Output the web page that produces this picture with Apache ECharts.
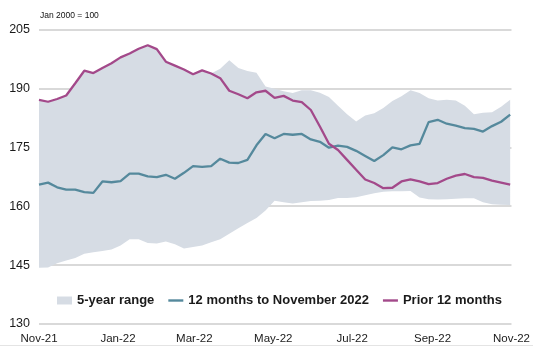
<!DOCTYPE html>
<html>
<head>
<meta charset="utf-8">
<script src="https://cdn.jsdelivr.net/npm/echarts@6/dist/echarts.min.js"></script>
<style>
html,body{margin:0;padding:0;background:#fff;}
#chart{width:533px;height:348px;}
</style>
</head>
<body>
<div id="chart"></div>
<script>
// Weekly observation dates
var dates = [
'2021-11-01','2021-11-08','2021-11-15','2021-11-22','2021-11-29',
'2021-12-06','2021-12-13','2021-12-20','2021-12-27',
'2022-01-03','2022-01-10','2022-01-17','2022-01-24','2022-01-31',
'2022-02-07','2022-02-14','2022-02-21','2022-02-28',
'2022-03-07','2022-03-14','2022-03-21','2022-03-28',
'2022-04-04','2022-04-11','2022-04-18','2022-04-25',
'2022-05-02','2022-05-09','2022-05-16','2022-05-23','2022-05-30',
'2022-06-06','2022-06-13','2022-06-20','2022-06-27',
'2022-07-04','2022-07-11','2022-07-18','2022-07-25',
'2022-08-01','2022-08-08','2022-08-15','2022-08-22','2022-08-29',
'2022-09-05','2022-09-12','2022-09-19','2022-09-26',
'2022-10-03','2022-10-10','2022-10-17','2022-10-24','2022-10-31'
];

// 12 months to November 2022
var current12 = [
165.5,166.0,164.8,164.2,164.2,163.6,163.4,166.3,166.1,
166.4,168.3,168.3,167.6,167.4,168.0,167.0,168.5,170.2,
170.0,170.2,172.1,171.1,171.0,171.8,175.5,178.4,177.3,
178.4,178.2,178.4,177.0,176.4,174.9,175.4,175.1,174.1,
172.8,171.5,173.0,175.0,174.5,175.5,175.9,181.4,182.0,
181.0,180.5,179.9,179.7,179.0,180.4,181.5,183.3
];

// Prior 12 months
var prior12 = [
187.1,186.6,187.3,188.2,191.3,194.5,193.9,195.2,196.4,
197.9,198.9,200.1,201.0,200.0,196.8,195.8,194.8,193.6,
194.6,193.8,192.6,189.4,188.5,187.5,189.0,189.4,187.6,
188.1,186.9,186.5,184.5,180.3,175.9,174.3,171.8,169.3,
166.8,165.9,164.6,164.7,166.3,166.8,166.3,165.6,165.9,
167.0,167.8,168.2,167.4,167.2,166.5,166.0,165.5
];

// 5-year range bounds
var rangeLow = [
144.3,144.4,145.5,146.2,146.8,147.9,148.3,148.6,149.0,
150.0,151.6,151.6,150.6,150.5,151.0,150.3,149.2,149.6,
150.0,150.8,151.6,153.0,154.4,155.7,157.0,158.9,161.4,
161.0,160.7,161.0,161.3,161.4,161.6,162.1,162.1,162.3,
162.8,163.3,163.7,163.8,163.8,163.9,162.2,161.8,161.7,
161.8,161.9,162.0,162.0,161.0,160.5,160.4,160.3
];
var rangeHigh = [
187.1,186.6,187.3,188.2,191.3,194.5,193.9,195.2,196.4,
197.9,198.9,200.1,201.0,200.0,196.8,195.8,194.8,193.6,
194.6,193.8,195.0,197.2,195.2,194.4,194.0,190.5,189.9,
189.3,188.8,189.5,189.5,188.9,187.8,185.6,183.4,181.6,
183.1,183.7,185.0,186.8,188.0,189.5,188.8,187.5,186.9,
187.1,186.9,185.6,183.4,183.8,183.9,185.3,187.1
];

// Axis
var yMin = 130, yMax = 205, yStep = 15;
var xTickDates = ['2021-11-01','2022-01-01','2022-03-01','2022-05-01','2022-07-01','2022-09-01','2022-11-01'];
var xTickLabels = ['Nov-21','Jan-22','Mar-22','May-22','Jul-22','Sep-22','Nov-22'];

var seriesNames = ['5-year range','12 months to November 2022','Prior 12 months'];

var COL_BAND = '#d6dce4', COL_TEAL = '#55899c', COL_PURPLE = '#a3498a';
var FONT = 'Liberation Sans, Arial, sans-serif';

var DAY = 86400000;
function ts(s){ var p = s.split('-'); return Date.UTC(+p[0], +p[1]-1, +p[2]); }
var t0 = ts(xTickDates[0]);
function dayOf(s){ return Math.round((ts(s) - t0) / DAY); }
var tickDays = xTickDates.map(dayOf);
var labelByDay = {};
tickDays.forEach(function(d,i){ labelByDay[d] = xTickLabels[i]; });
function pairs(arr){ return arr.map(function(v,i){ return [dayOf(dates[i]), v]; }); }
var bandData = dates.map(function(d,i){ return [dayOf(d), rangeLow[i], rangeHigh[i]]; });

function renderBand(params, api){
  if (params.dataIndex !== 0) return null;
  var top = [], bot = [];
  for (var i = 0; i < bandData.length; i++) {
    top.push(api.coord([bandData[i][0], bandData[i][2]]));
    bot.push(api.coord([bandData[i][0], bandData[i][1]]));
  }
  var pts = top.concat(bot.reverse());
  return {type:'polygon', shape:{points: pts}, style:{fill: COL_BAND}, silent:true};
}

var lineIcon = 'path://M0,0h15v2.4h-15z';

var chart = echarts.init(document.getElementById('chart'), null, {renderer:'canvas'});
chart.setOption({
  animation: false,
  backgroundColor: '#fff',
  grid: {left: 39, right: 20, top: 29.5, bottom: 24, containLabel: false},
  graphic: [
    {type:'text', left: 40, top: 11, style:{text:'Jan 2000 = 100', font:'8.5px ' + FONT, fill:'#111'}},
    {type:'rect', left: 0, top: 345, shape:{width:533, height:1}, style:{fill:'#e4e4e4'}, silent:true}
  ],
  legend: {
    left: 57, top: 294, padding: 0,
    itemWidth: 15, itemHeight: 8, itemGap: 14,
    textStyle: {fontFamily: FONT, fontSize: 13, fontWeight: 'bold', color: '#1a1a1a'},
    data: [
      {name: seriesNames[0], icon: 'rect', itemStyle: {color: COL_BAND}},
      {name: seriesNames[1], icon: lineIcon, itemStyle: {color: COL_TEAL}},
      {name: seriesNames[2], icon: lineIcon, itemStyle: {color: COL_PURPLE}}
    ]
  },
  xAxis: {
    type: 'value',
    min: tickDays[0], max: tickDays[tickDays.length-1],
    axisLine: {show: false},
    axisTick: {show: false},
    splitLine: {show: false},
    axisLabel: {
      customValues: tickDays,
      showMinLabel: true, showMaxLabel: true, hideOverlap: false,
      fontFamily: FONT, fontSize: 11.5, color: '#1a1a1a', margin: 9,
      formatter: function(v){ return labelByDay[Math.round(v)] || ''; }
    }
  },
  yAxis: {
    type: 'value', min: yMin, max: yMax, interval: yStep,
    axisLine: {show: false}, axisTick: {show: false},
    axisLabel: {fontFamily: FONT, fontSize: 12.5, color: '#1a1a1a', margin: 9},
    splitLine: {lineStyle: {color: '#d9d9d9', width: 2}}
  },
  series: [
    {name: seriesNames[0], type: 'custom', renderItem: renderBand, data: bandData,
     encode: {x: 0, y: [1, 2]}, itemStyle: {color: COL_BAND}, silent: true, z: 1},
    {name: seriesNames[1], type: 'line', data: pairs(current12), symbol: 'none',
     lineStyle: {color: COL_TEAL, width: 2.3}, itemStyle: {color: COL_TEAL}, z: 3},
    {name: seriesNames[2], type: 'line', data: pairs(prior12), symbol: 'none',
     lineStyle: {color: COL_PURPLE, width: 2.3}, itemStyle: {color: COL_PURPLE}, z: 4}
  ]
});
</script>
</body>
</html>
